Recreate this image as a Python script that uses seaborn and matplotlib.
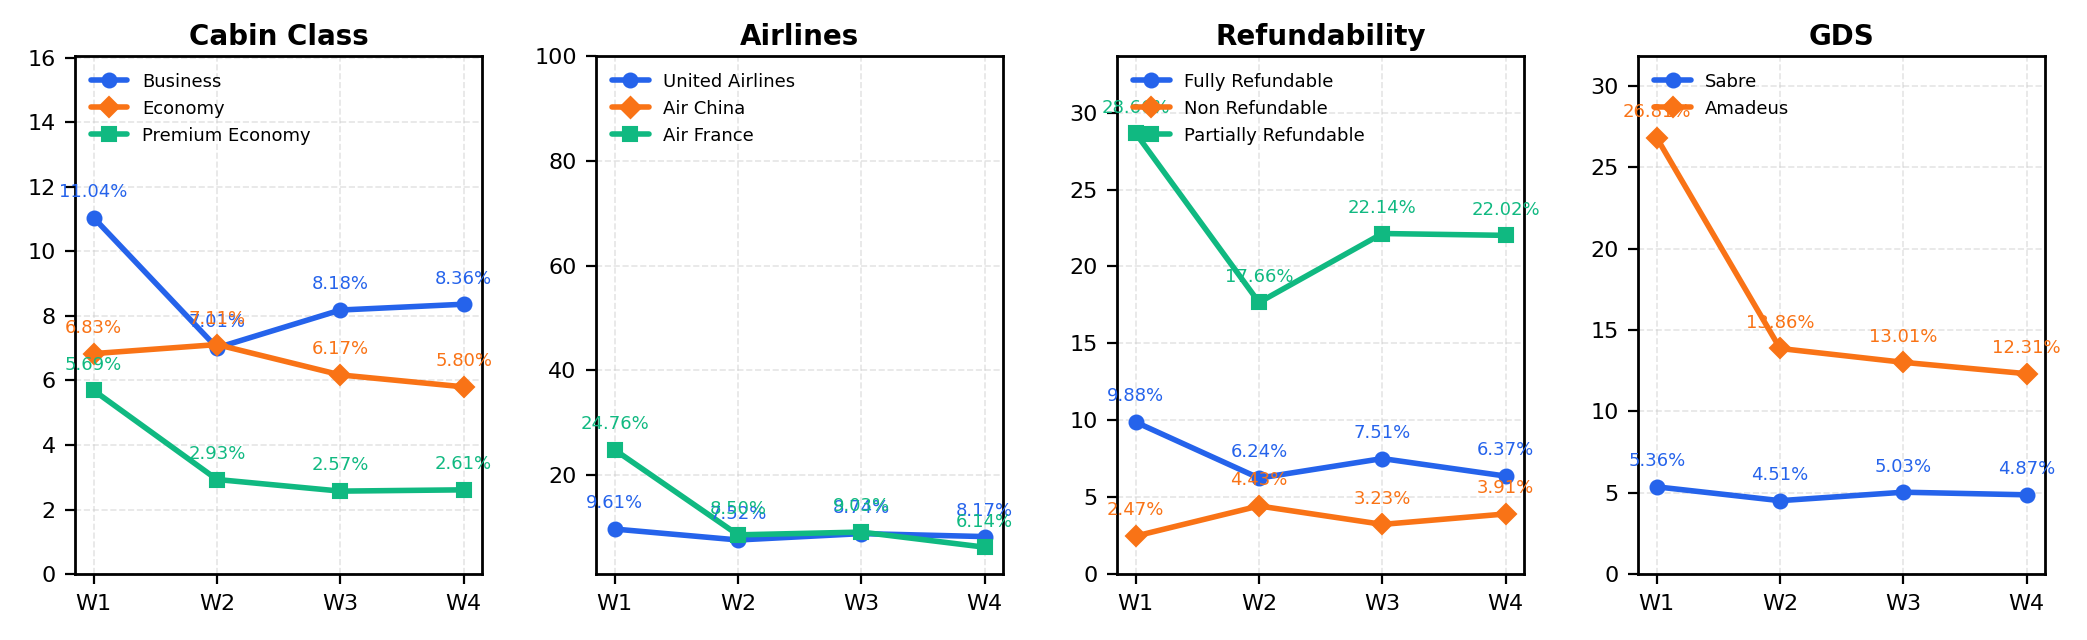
import numpy as np
import matplotlib
matplotlib.use("Agg")
import matplotlib.pyplot as plt
import seaborn as sns

sns.set_theme(style="ticks")
plt.rcParams['font.family'] = ['DejaVu Sans']
plt.rcParams.update({
    'text.color': 'black', 'axes.labelcolor': 'black',
    'xtick.color': 'black', 'ytick.color': 'black',
    'axes.titlecolor': 'black',
})

weeks = ["W1", "W2", "W3", "W4"]

# Cabin Class
cabin_names = ["Business", "Economy", "Premium Economy"]
business = [11.04, 7.01, 8.18, 8.36]
economy = [6.83, 7.11, 6.17, 5.80]
premium_economy = [5.69, 2.93, 2.57, 2.61]

# Airlines (Air China has no values)
airline_names = ["United Airlines", "Air China", "Air France"]
united = [9.61, 7.52, 8.74, 8.17]
air_china = [np.nan, np.nan, np.nan, np.nan]
air_france = [24.76, 8.50, 9.03, 6.14]

# Refundability
refund_names = ["Fully Refundable", "Non Refundable", "Partially Refundable"]
fully_ref = [9.88, 6.24, 7.51, 6.37]
non_ref = [2.47, 4.43, 3.23, 3.91]
partial_ref = [28.66, 17.66, 22.14, 22.02]

# GDS
gds_names = ["Sabre", "Amadeus"]
sabre = [5.36, 4.51, 5.03, 4.87]
amadeus = [26.81, 13.86, 13.01, 12.31]

colors = ["#2563eb", "#f97316", "#10b981"]
markers = ["o", "D", "s"]

panels = [
    ("Cabin Class", cabin_names, [business, economy, premium_economy], (0, 16.04)),
    ("Airlines", airline_names, [united, air_china, air_france], (1, 100)),
    ("Refundability", refund_names, [fully_ref, non_ref, partial_ref], (0, 33.66)),
    ("GDS", gds_names, [sabre, amadeus], (0, 31.81)),
]

fig, axes = plt.subplots(1, 4, figsize=(10.435, 3.2), dpi=200)
fig.subplots_adjust(left=0.036, right=0.98, top=0.912, bottom=0.103, wspace=0.28)

x = np.arange(len(weeks))
for ax, (title, names, series, ylim) in zip(axes, panels):
    for i, (name, vals) in enumerate(zip(names, series)):
        vals = np.array(vals, dtype=float)
        c = colors[i]
        if np.all(np.isnan(vals)):
            # nothing to draw, keep the legend entry
            ax.plot(x, vals, color=c, marker=markers[i], linewidth=2,
                    markersize=5, label=name)
            continue
        sns.lineplot(x=x, y=vals, ax=ax, color=c, marker=markers[i],
                     linewidth=2, markersize=5, markeredgecolor=c,
                     label=name)
        for xi, v in zip(x, vals):
            ax.annotate(f"{v:.2f}%", (xi, v), xytext=(0, 6),
                        textcoords="offset points", ha="center",
                        va="bottom", fontsize=6.5, color=c)
    ax.set_title(title, fontsize=10, fontweight="bold", pad=4)
    ax.set_xticks(x)
    ax.set_xticklabels(weeks)
    ax.set_ylim(*ylim)
    ax.set_xlabel("")
    ax.set_ylabel("")
    ax.tick_params(labelsize=8, length=3.5, width=0.8)
    ax.grid(True, linestyle="--", color="#cccccc", alpha=0.5, linewidth=0.6)
    for sp in ax.spines.values():
        sp.set_color("black")
        sp.set_linewidth(1.0)
    ax.legend(loc="upper left", fontsize=6.5, frameon=False)

fig.savefig("out.png", dpi=200)
